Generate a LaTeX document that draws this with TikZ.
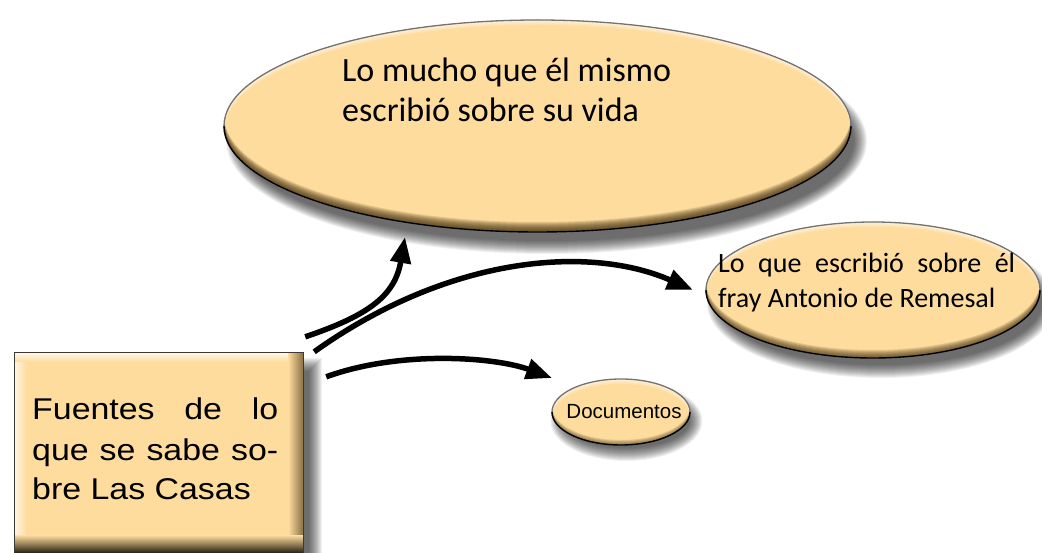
\documentclass[tikz,border=0pt]{standalone}
\usepackage{fontspec}
\setmainfont{Liberation Sans}
\newfontfamily\cfont{Carlito}
\newfontfamily\wfont[FakeStretch=1.13]{Liberation Sans}
\usetikzlibrary{shapes.geometric,arrows.meta,calc}
\definecolor{tanlight}{RGB}{254,236,200}
\definecolor{tanmain}{RGB}{253,220,158}
\definecolor{tandark}{RGB}{115,84,32}
\definecolor{bevdark}{RGB}{70,48,12}
\definecolor{edgegray}{RGB}{60,56,52}
\newcommand\ellshadow[5]{% cx cy rx ry offset
  \foreach \k in {0,...,13} {\fill[black, opacity=0.06] (#1+0.6*#5,#2-#5) ellipse [x radius=#3pt+7pt-\k pt, y radius=#4pt+7pt-\k pt];}
}
\newcommand\ellbevel[4]{%
  \begin{scope}
  \clip (#1.center) ellipse [x radius=#2pt, y radius=#3pt];
  \foreach \k in {1,...,#4} {\fill[bevdark, opacity=0.14, even odd rule] (#1.center) ellipse [x radius=#2pt, y radius=#3pt] ($(#1.center)+(0,\k)$) ellipse [x radius=#2pt, y radius=#3pt];}
  \foreach \k in {1,...,5} {\fill[white, opacity=0.16, even odd rule] (#1.center) ellipse [x radius=#2pt, y radius=#3pt] ($(#1.center)+(0,-\k)$) ellipse [x radius=#2pt, y radius=#3pt];}
  \end{scope}
  \draw[black!55, line width=1.3pt] (#1.center) ellipse [x radius=#2pt, y radius=#3pt];
  \draw[black, line width=1.4pt] ($(#1.center)+(#2,0)$) arc[start angle=0, end angle=-180, x radius=#2pt, y radius=#3pt];
}
\begin{document}
\begin{tikzpicture}[x=1pt,y=1pt,
  ellnode/.style={ellipse, fill=tanmain, inner sep=0pt},
  conn/.style={line width=5.5pt, -{Triangle[length=26pt,width=20pt]}},
  txt/.style={anchor=base west, inner sep=0pt}
]
\useasboundingbox (0,0) rectangle (1042,-553);

% shadows
\foreach \k in {0,...,13} {\fill[black, opacity=0.06] (27-7+\k,-365+7-\k) rectangle (315+7-\k,-566-7+\k);}
\ellshadow{537.5}{-126}{313.5}{106}{15}
\ellshadow{873}{-290}{167}{68}{13}
\ellshadow{621}{-412}{69}{33}{9}

% box
\node[fill=tanmain, minimum width=288pt, minimum height=201pt, inner sep=0pt] (box) at (159,-453.5) {};
\begin{scope}
\clip (box.south west) rectangle (box.north east);
\shade[left color=tanlight!55!white, right color=tanmain] (box.south west) rectangle ($(box.north west)+(12,0)$);
\shade[top color=tanlight!45!white, bottom color=tanmain] (box.north west) rectangle ($(box.north east)+(0,-9)$);
\shade[left color=tanmain, right color=tandark!85] ($(box.south east)+(-15,0)$) rectangle (box.north east);
\shade[top color=tanmain, bottom color=black!80!tandark] ($(box.south west)+(0,19)$) rectangle (box.south east);
\end{scope}
\draw[edgegray, line width=1.2pt] (box.south west) rectangle (box.north east);
\node[txt, font=\wfont\fontsize{30}{40}\selectfont] (bt) at (32,-420)
  {\vtop{\hbox to 246pt{Fuentes de lo}\hbox to 246pt{que se sabe so-}\hbox{bre Las Casas}}};

% ellipses
\node[ellnode, minimum width=627pt, minimum height=212pt] (e1) at (537.5,-126) {};
\ellbevel{e1}{313.5}{106}{10}
\node[txt, font=\cfont\fontsize{34}{40}\selectfont] (t1) at (342,-82)
  {\vtop{\hbox{Lo mucho que él mismo}\hbox{escribió sobre su vida}}};

\node[ellnode, minimum width=334pt, minimum height=136pt] (e2) at (873,-290) {};
\ellbevel{e2}{167}{68}{8}
\node[txt, font=\cfont\fontsize{28}{35}\selectfont] (t2) at (718,-273)
  {\vtop{\hbox to 297pt{Lo que escribió sobre él}\hbox{fray Antonio de Remesal}}};

\node[ellnode, minimum width=138pt, minimum height=66pt] (e3) at (621,-412) {};
\ellbevel{e3}{69}{33}{5}
\node[inner sep=0pt, font=\fontsize{20.5}{24}\selectfont] (t3) at (624,-412) {Documentos};

% connectors
\coordinate (s1) at ($(box.north east)+(2,16)$);
\coordinate (s2) at ($(box.north east)+(11,1)$);
\coordinate (s3) at ($(box.north east)+(23,-24)$);
\coordinate (h1) at (405,-237);
\coordinate (h2) at (693,-290);
\coordinate (h3) at (552,-378);
\draw[conn] (s1) .. controls (370,-315) and (395,-295) .. (h1);
\draw[conn] (s2) .. controls (450,-255) and (590,-245) .. (h2);
\draw[conn] (s3) .. controls (400,-350) and (495,-357) .. (h3);
\end{tikzpicture}
\end{document}
